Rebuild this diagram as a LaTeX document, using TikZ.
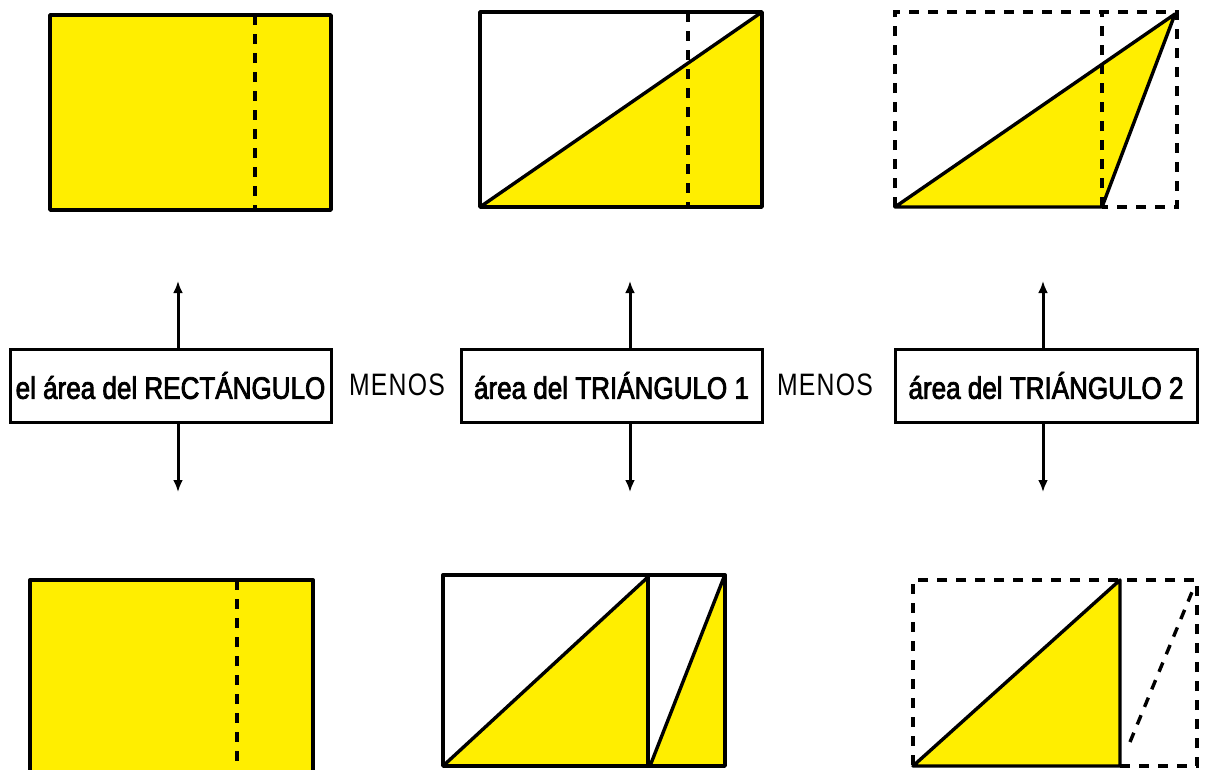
\documentclass[tikz,border=0pt]{standalone}
\usepackage{fontspec}
\setmainfont{Liberation Sans}
\newfontfamily\boxfont[FakeStretch=0.84,FakeBold=2.5]{Liberation Sans}
\newfontfamily\menosfont[FakeStretch=0.8,LetterSpace=4]{Liberation Sans}
\usetikzlibrary{arrows.meta,calc}
\definecolor{fig}{RGB}{255,238,0}
\tikzset{
  solidline/.style={line width=3.4pt,line join=round},
  dashline/.style={line width=3.4pt,dash pattern=on 10pt off 9pt},
  areabox/.style={draw,line width=3pt,minimum height=73pt,inner sep=0pt,font=\boxfont\fontsize{31}{32}\selectfont},
  menos/.style={font=\menosfont\fontsize{31}{32}\selectfont,inner sep=0pt},
  conn/.style={line width=3pt,-{Latex[length=12pt,width=10pt]}}
}
\begin{document}
\begin{tikzpicture}[x=1pt,y=-1pt]
\useasboundingbox (0,0) rectangle (1208,769);
% ---------- top row ----------
% rectangle
\filldraw[fill=fig,solidline] (50,15) rectangle (331,210);
\draw[dashline] (255,15) -- (255,210);
% triangle 1 in rectangle
\fill[fig] (480,207) -- (762,12) -- (762,207) -- cycle;
\draw[solidline] (480,12) rectangle (762,207);
\draw[solidline] (480,207) -- (762,12);
\draw[dashline] (688,12) -- (688,207);
% triangle 2
\fill[fig] (895,207) -- (1175,14) -- (1102,207) -- cycle;
\draw[dashline] (895,207) -- (895,12) -- (1177,12) -- (1177,207) -- (1102,207);
\draw[dashline] (1102,207) -- (1102,14);
\draw[solidline] (895,207) -- (1175,14) -- (1102,207) -- cycle;
% ---------- middle row ----------
\node[areabox,minimum width=321pt] (b1) at (170.5,385.5) {el área del RECTÁNGULO};
\node[areabox,minimum width=301pt] (b2) at (611.5,385.5) {área del TRIÁNGULO 1};
\node[areabox,minimum width=302pt] (b3) at (1046,385.5) {área del TRIÁNGULO 2};
\node[menos] (m1) at (397,385) {MENOS};
\node[menos] (m2) at (825,385) {MENOS};
\coordinate (u1) at (178,281);
\coordinate (d1) at (178,492);
\coordinate (u2) at (630,281);
\coordinate (d2) at (630,492);
\coordinate (u3) at (1043,281);
\coordinate (d3) at (1043,492);
\draw[conn] (u1 |- b1.north) -- (u1);
\draw[conn] (d1 |- b1.south) -- (d1);
\draw[conn] (u2 |- b2.north) -- (u2);
\draw[conn] (d2 |- b2.south) -- (d2);
\draw[conn] (u3 |- b3.north) -- (u3);
\draw[conn] (d3 |- b3.south) -- (d3);
% ---------- bottom row ----------
\filldraw[fill=fig,solidline] (30,580) rectangle (313,775);
\draw[dashline] (237,580) -- (237,775);
% two triangles
\fill[fig] (443,766) -- (648,577) -- (648,766) -- cycle;
\fill[fig] (650,766) -- (724,577) -- (724,766) -- cycle;
\draw[solidline] (443,575) rectangle (725,766);
\draw[solidline] (648,575) -- (648,766);
\draw[solidline] (443,766) -- (648,577);
\draw[solidline] (650,766) -- (724,577);
% triangle with dashed rest
\fill[fig] (913,766) -- (1120,580) -- (1120,766) -- cycle;
\draw[dashline] (1120,766) -- (1197,766) -- (1197,580) -- (913,580) -- (913,766);
\draw[dashline] (1130,742) -- (1192,592);
\draw[solidline] (913,766) -- (1120,580) -- (1120,766) -- cycle;
\end{tikzpicture}
\end{document}
